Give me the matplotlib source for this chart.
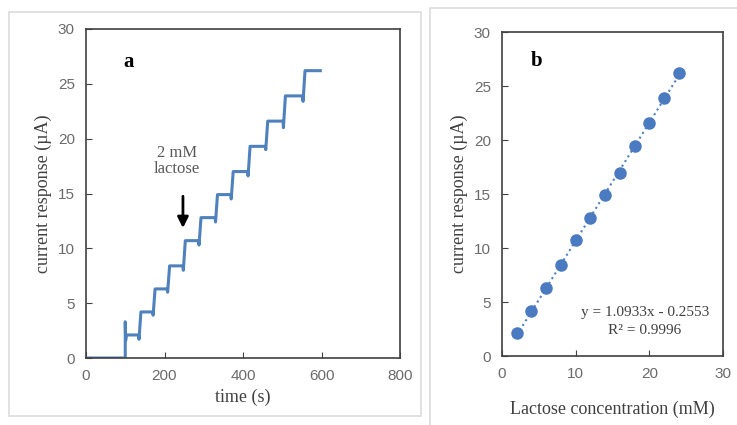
import numpy as np
import matplotlib.pyplot as plt
from matplotlib.patches import Rectangle

# panel a: amperometric trace, step times (s) and current levels (uA)
step_t = [100, 137, 173, 210, 250, 290, 332, 372, 415, 460, 505, 555]
step_i = [2.1, 4.2, 6.3, 8.4, 10.7, 12.8, 14.9, 17.0, 19.3, 21.6, 23.9, 26.2]
dip_i = [0.0, 1.7, 3.9, 6.0, 8.0, 10.3, 12.4, 14.5, 16.6, 19.0, 21.0, 23.4]
t_end = 600

# panel b: calibration
conc = [2, 4, 6, 8, 10, 12, 14, 16, 18, 20, 22, 24]
resp = [2.1, 4.2, 6.3, 8.4, 10.7, 12.8, 14.9, 16.9, 19.4, 21.6, 23.9, 26.2]

serif = "Liberation Serif"
sans = "Liberation Sans"
tick_col = "#6b6b6b"

fig = plt.figure(figsize=(7.37, 4.25), dpi=100)
W, H = 737, 425


def box(x0, y0, x1, y1):
    return [x0 / W, 1 - y1 / H, (x1 - x0) / W, (y1 - y0) / H]


# chart frames
fig.patches.append(Rectangle((9 / W, 1 - 416 / H), 412 / W, 404 / H,
                             transform=fig.transFigure, fill=False,
                             ec="#dcdcdc", lw=1.2))
fig.patches.append(Rectangle((430 / W, 1 - 440 / H), 320 / W, 432 / H,
                             transform=fig.transFigure, fill=False,
                             ec="#dcdcdc", lw=1.2))

# ---- panel a
ax1 = fig.add_axes(box(86, 29, 400, 358))
t = [0, step_t[0]]
y = [0, 0]
for k in range(len(step_t)):
    t0 = step_t[k]
    t1 = step_t[k + 1] if k + 1 < len(step_t) else t_end
    if k == 0:
        t += [t0, t0 + 1, t0 + 3]
        y += [3.3, 1.6, step_i[k]]
    else:
        t += [t0 - 2, t0 + 3]
        y += [dip_i[k], step_i[k]]
    t += [t1 - 3]
    y += [step_i[k]]
ax1.plot(t, y, color="#4f81bd", lw=2.2)

ax1.set_xlim(0, 800)
ax1.set_ylim(0, 30)
ax1.set_xticks([0, 200, 400, 600, 800])
ax1.set_yticks(range(0, 31, 5))
ax1.set_xlabel("time (s)", fontfamily=serif, fontsize=13, color="#404040")
ax1.set_ylabel("current response (\u00b5A)", fontfamily=serif, fontsize=13,
               color="#404040")
ax1.text(0.12, 0.9, "a", transform=ax1.transAxes, fontfamily=serif,
         fontsize=15, fontweight="bold", va="center")
ax1.text(232, 18.0, "2 mM\nlactose", fontfamily=serif, fontsize=12,
         color="#595959", ha="center", va="center", linespacing=1.0)
ax1.annotate("", xy=(247, 11.6), xytext=(247, 15.0),
             arrowprops=dict(arrowstyle="-|>", color="black", lw=2,
                             mutation_scale=16))

# ---- panel b
ax2 = fig.add_axes(box(502, 32, 723, 356))
a, b = np.polyfit(conc, resp, 1)
xf = np.array([conc[0], conc[-1]])
ax2.plot(xf, a * xf + b, ls=":", color="#4f81bd", lw=1.5)
ax2.plot(conc, resp, "o", color="#4a7ac0", ms=8)
ax2.set_xlim(0, 30)
ax2.set_ylim(0, 30)
ax2.set_xticks([0, 10, 20, 30])
ax2.set_yticks(range(0, 31, 5))
ax2.set_xlabel("Lactose concentration (mM)", fontfamily=serif, fontsize=13,
               color="#404040", labelpad=14)
ax2.set_ylabel("current response (\u00b5A)", fontfamily=serif, fontsize=13,
               color="#404040")
ax2.text(0.13, 0.91, "b", transform=ax2.transAxes, fontfamily=serif,
         fontsize=15, fontweight="bold", va="center")
ax2.text(19.4, 4.0, "y = 1.0933x - 0.2553", fontfamily=serif, fontsize=11,
         color="#404040", ha="center", va="center")
ax2.text(19.4, 2.4, "R\u00b2 = 0.9996", fontfamily=serif, fontsize=11,
         color="#404040", ha="center", va="center")

for ax in (ax1, ax2):
    for s in ax.spines.values():
        s.set_color("#404040")
        s.set_linewidth(1.2)
    ax.tick_params(direction="in", length=4, color="#404040",
                   labelcolor=tick_col, labelsize=11, pad=8)
    for lab in ax.get_xticklabels() + ax.get_yticklabels():
        lab.set_fontfamily(sans)

fig.savefig("out.png", dpi=100)
